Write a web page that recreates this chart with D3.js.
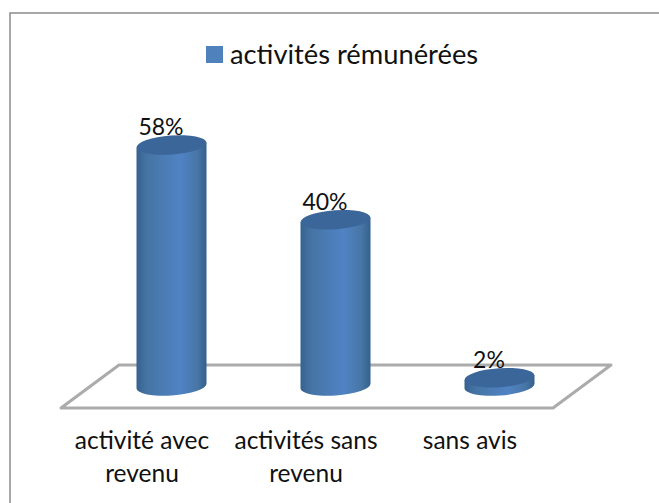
<!DOCTYPE html>
<html>
<head>
<meta charset="utf-8">
<title>activités rémunérées</title>
<style>
  html, body { margin: 0; padding: 0; background: #fff; }
  text { font-family: Lato, "Open Sans", sans-serif; fill: #111; }
</style>
</head>
<body>
<svg id="chart" width="659" height="503" style="display:block"></svg>
<script src="https://cdn.jsdelivr.net/npm/d3@7"></script>
<script>
var categories = ["activité avec revenu", "activités sans revenu", "sans avis"];
var values = [58, 40, 2];
var seriesName = "activités rémunérées";

var svg = d3.select("#chart");

// chart frame, runs off the bottom and right of the picture
svg.append("path")
    .attr("d", "M10,503V13H659")
    .attr("fill", "none")
    .attr("stroke", "#8c8c8c")
    .attr("stroke-width", 1.5);

// front edge of the floor carries the categories, the bars stand further back
var frontY = 408, depthX = 58, depthY = 43;
var barDx = 28.5, baseY = 386, rx = 35, ry = 9.5, tilt = 2.4;

var x = d3.scaleBand().domain(categories).range([61, 553]);
var y = d3.scaleLinear().domain([0, 58]).range([baseY, 145]);

// gradient across the cylinder body
var defs = svg.append("defs");
var side = defs.append("linearGradient").attr("id", "side");
side.append("stop").attr("offset", "0%").attr("stop-color", "#36628f");
side.append("stop").attr("offset", "15%").attr("stop-color", "#4574a4");
side.append("stop").attr("offset", "62%").attr("stop-color", "#5083c4");
side.append("stop").attr("offset", "87%").attr("stop-color", "#4776a6");
side.append("stop").attr("offset", "100%").attr("stop-color", "#34608c");

// floor
svg.append("path")
    .attr("d", d3.line()([
      [x.range()[0], frontY],
      [x.range()[0] + depthX, frontY - depthY],
      [x.range()[1] + depthX, frontY - depthY],
      [x.range()[1], frontY]
    ]) + "Z")
    .attr("fill", "none")
    .attr("stroke", "#ababab")
    .attr("stroke-width", 3)
    .attr("stroke-linejoin", "round");

// cylinders
var bars = svg.append("g").selectAll("g")
    .data(categories)
    .enter().append("g")
    .attr("transform", function(d) {
      return "translate(" + (x(d) + x.bandwidth() / 2 + barDx) + ",0)";
    });

bars.append("path")
    .attr("fill", "url(#side)")
    .attr("d", function(d, i) {
      var top = y(values[i]);
      return "M" + (-rx) + "," + (top + tilt) +
        "L" + (-rx) + "," + (baseY + tilt) +
        "A" + rx + "," + ry + " -4 0 0 " + rx + "," + (baseY - tilt) +
        "L" + rx + "," + (top - tilt) + "Z";
    });

bars.append("ellipse")
    .attr("cx", 0)
    .attr("cy", 0)
    .attr("rx", rx)
    .attr("ry", ry)
    .attr("transform", function(d, i) { return "translate(0," + y(values[i]) + ") rotate(-4)"; })
    .attr("fill", "#3a6699");

// value labels
bars.append("text")
    .attr("x", -10.5)
    .attr("y", function(d, i) { return y(values[i]) - 10; })
    .attr("text-anchor", "middle")
    .attr("font-size", 23)
    .text(function(d, i) { return values[i] + "%"; });

// category axis, labels wrapped on two lines
var axis = svg.append("g")
    .attr("transform", "translate(-1," + frontY + ")")
    .call(d3.axisBottom(x).tickSize(0).tickPadding(0));
axis.select(".domain").remove();
axis.selectAll(".tick text").each(function(d) {
  var words = d.split(" ");
  var lines = words.length > 2 ? [words.slice(0, 2).join(" "), words.slice(2).join(" ")] : [d];
  var t = d3.select(this).text(null).attr("y", 0).attr("dy", null)
      .attr("font-size", 24.5).attr("font-family", null);
  lines.forEach(function(l, i) {
    t.append("tspan").attr("x", 0).attr("y", 41 + i * 33).text(l);
  });
});

// legend
svg.append("rect")
    .attr("x", 206).attr("y", 46)
    .attr("width", 17).attr("height", 17)
    .attr("fill", "#4f81bd");
svg.append("text")
    .attr("x", 230).attr("y", 64)
    .attr("font-size", 27.3)
    .text(seriesName);
</script>
</body>
</html>
